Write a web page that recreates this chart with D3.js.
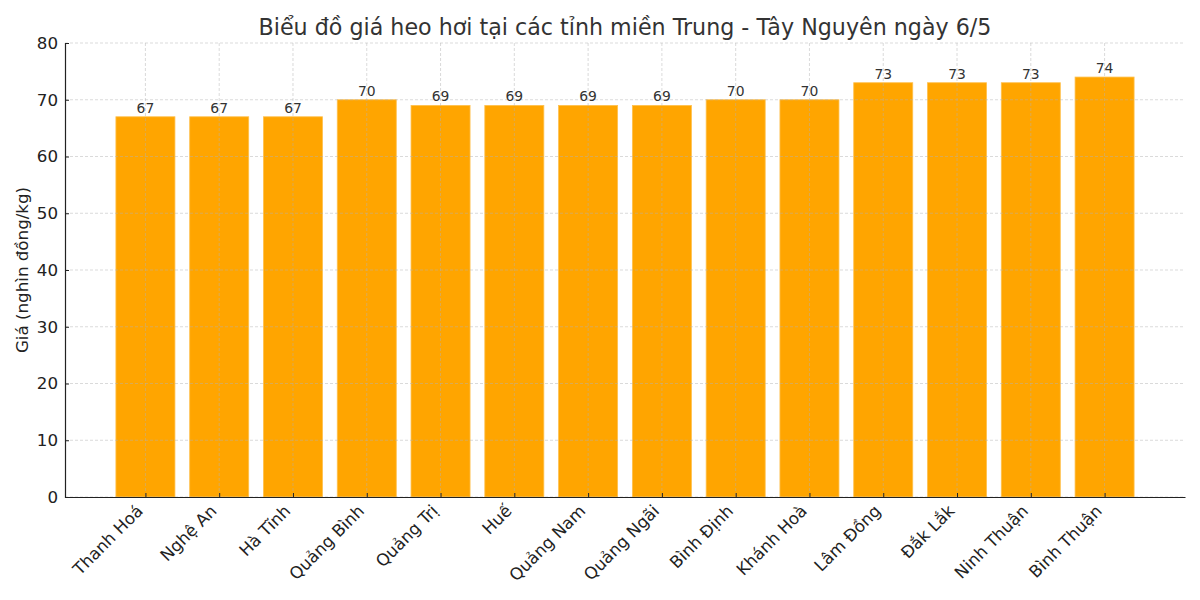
<!DOCTYPE html>
<html><head><meta charset="utf-8">
<script src="https://d3js.org/d3.v7.min.js"></script>
<style>body{margin:0;background:#fff;} svg{display:block;font-family:"DejaVu Sans",sans-serif;}</style>
</head><body>
<svg id="c" width="1200" height="600"></svg>
<script>
const categories = ["Thanh Hoá","Nghệ An","Hà Tĩnh","Quảng Bình","Quảng Trị","Huế","Quảng Nam","Quảng Ngãi","Bình Định","Khánh Hoà","Lâm Đồng","Đắk Lắk","Ninh Thuận","Bình Thuận"];
const values = [67,67,67,70,69,69,69,69,70,70,73,73,73,74];
const yTicks = [0,10,20,30,40,50,60,70,80];
const title = "Biểu đồ giá heo hơi tại các tỉnh miền Trung - Tây Nguyên ngày 6/5";
const yLabel = "Giá (nghìn đồng/kg)";

const svg = d3.select("#c");
const L=65, R=1185, T=43, B=497;
const x = d3.scaleLinear().domain([-1.09, categories.length - 1 + 1.09]).range([L, R]);
const y = d3.scaleLinear().domain([0, 80]).range([B, T]);
const bw = x(0.4) - x(-0.4);

// bars
svg.append("g").selectAll("rect").data(values).join("rect")
  .attr("x",(d,i)=>x(i)-bw/2).attr("width",bw)
  .attr("y",d=>y(d)).attr("height",d=>B-y(d))
  .attr("fill","#FFA500").attr("stroke","#FFC04D").attr("stroke-width",0.8);

// grid on top
const g = svg.append("g").attr("stroke","#b0b0b0").attr("stroke-opacity",0.6).attr("stroke-dasharray","3,2").attr("stroke-width",0.8);
g.selectAll("line.h").data(yTicks).join("line").attr("class","h")
  .attr("x1",L).attr("x2",R).attr("y1",d=>y(d)).attr("y2",d=>y(d));
g.selectAll("line.v").data(categories).join("line").attr("class","v")
  .attr("x1",(d,i)=>x(i)).attr("x2",(d,i)=>x(i)).attr("y1",T).attr("y2",B);

// value labels
svg.append("g").selectAll("text").data(values).join("text")
  .attr("x",(d,i)=>x(i)).attr("y",d=>y(d)-4)
  .attr("text-anchor","middle").attr("font-size",13.9).attr("fill","#333")
  .text(d=>d);

// axes
const yAxis = svg.append("g").attr("transform",`translate(${L},0)`)
  .call(d3.axisLeft(y).tickValues(yTicks).tickSize(-4).tickPadding(7));
yAxis.select(".domain").attr("stroke","#222").attr("stroke-width",1.2);
yAxis.selectAll("text").attr("font-size",16.7).attr("fill","#222").attr("font-family","DejaVu Sans");
yAxis.selectAll(".tick line").attr("stroke","#222");

const xAxis = svg.append("g").attr("transform",`translate(0,${B})`)
  .call(d3.axisBottom(x).tickValues(d3.range(categories.length)).tickFormat(i=>categories[i]).tickSize(-4).tickSizeOuter(0).tickPadding(8));
xAxis.select(".domain").attr("stroke","#222").attr("stroke-width",1.2);
xAxis.selectAll(".tick line").attr("stroke","#222");
xAxis.selectAll("text").attr("font-size",16.7).attr("fill","#222").attr("font-family","DejaVu Sans")
  .attr("text-anchor","end").attr("x",0).attr("y",0).attr("dy",0)
  .attr("transform","translate(-2,15) rotate(-45)");

// title
svg.append("text").attr("x",(L+R)/2).attr("y",35).attr("text-anchor","middle")
  .attr("font-size",22.2).attr("fill","#333").text(title);

// y label
svg.append("text").attr("transform",`translate(28,${(T+B)/2}) rotate(-90)`)
  .attr("text-anchor","middle").attr("font-size",16.7).attr("fill","#222").text(yLabel);
</script>
</body></html>
